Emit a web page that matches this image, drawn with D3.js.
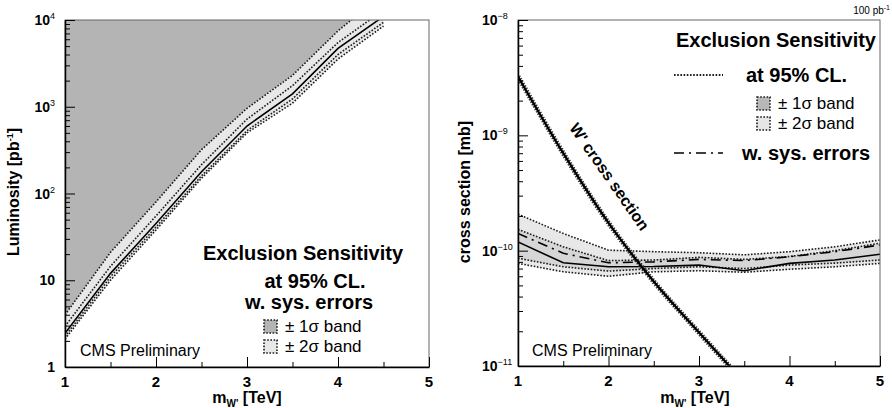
<!DOCTYPE html>
<html>
<head>
<meta charset="utf-8">
<script src="https://cdn.jsdelivr.net/npm/d3@7/dist/d3.min.js"></script>
<style>
	body { margin: 0; background: #fff; }
	svg { font-family: 'Liberation Sans', Arial, sans-serif; }
</style>
</head>
<body>
<svg id="chart" width="892" height="408"></svg>
<script>
// left panel: luminosity needed for exclusion vs W' mass
const massLumi = [1, 1.5, 2, 2.5, 3, 3.5, 4, 4.5];
const lumiMedian = [2.45, 12, 45, 178, 600, 1410, 4700, 11000];
const lumiUp2 = [4.0, 21, 80, 320, 960, 2300, 7500, 20000];
const lumiUp1 = [2.95, 14.5, 55, 215, 720, 1750, 5500, 13000];
const lumiDn1 = [2.25, 11, 41, 160, 530, 1230, 4000, 9400];
const lumiDn2 = [2.1, 10, 38, 150, 500, 1100, 3550, 8500];

// right panel: cross section limits for 100 pb-1
const massXs = [1, 1.5, 2, 2.5, 3, 3.5, 4, 4.5, 5];
const xsMedian = [1.19e-10, 7.85e-11, 7.25e-11, 7.3e-11, 7.5e-11, 6.7e-11, 7.76e-11, 8.3e-11, 9.3e-11];
const xsSys = [1.41e-10, 9.5e-11, 7.85e-11, 8.0e-11, 8.4e-11, 8.2e-11, 8.85e-11, 9.8e-11, 1.12e-10];
const xsUp2 = [2.07e-10, 1.41e-10, 1.01e-10, 9.8e-11, 9.6e-11, 9.2e-11, 9.8e-11, 1.08e-10, 1.24e-10];
const xsUp1 = [1.53e-10, 1.08e-10, 8.2e-11, 8.3e-11, 8.75e-11, 8.4e-11, 8.9e-11, 1.0e-10, 1.16e-10];
const xsDn1 = [8.6e-11, 7.25e-11, 6.65e-11, 7.0e-11, 7.25e-11, 7.0e-11, 7.5e-11, 7.8e-11, 8.3e-11];
const xsDn2 = [7.76e-11, 6.56e-11, 6.0e-11, 6.56e-11, 6.7e-11, 6.5e-11, 6.9e-11, 7.25e-11, 7.76e-11];

const massWprime = [1, 1.5, 2, 2.5, 3, 3.5];
const xsWprime = [3.24e-9, 7.0e-10, 1.74e-10, 5.4e-11, 1.95e-11, 7.2e-12];

const massTicks = [1, 2, 3, 4, 5];
const massMinorTicks = [1.5, 2.5, 3.5, 4.5];

const svg = d3.select('#chart');

const minorLogTicks = (lo, hi) => {
	const out = [];
	for (let e = lo; e < hi; e++) {
		for (let k = 2; k <= 9; k++) out.push(k * Math.pow(10, e));
	}
	return out;
};
const decadeTicks = (lo, hi) => d3.range(lo, hi + 1).map((e) => Math.pow(10, e));

const dotted = (sel) =>
	sel.attr('fill', 'none').attr('stroke', '#1a1a1a').attr('stroke-width', 1.6).attr('stroke-dasharray', '1.6 1.6');

const drawFrame = (g, x, y, titleX) => {
	const [x0, x1] = x.range();
	const [y0, y1] = y.range();
	g.append('rect')
		.attr('x', x0).attr('y', y1)
		.attr('width', x1 - x0).attr('height', y0 - y1)
		.attr('fill', 'none').attr('stroke', '#666').attr('stroke-width', 1);

	g.append('g')
		.attr('transform', `translate(0,${y0})`)
		.call(d3.axisBottom(x).tickValues(massTicks).tickSizeInner(-10).tickSizeOuter(0).tickFormat(''))
		.call((a) => a.select('.domain').attr('stroke-width', 1.5));
	g.append('g')
		.attr('transform', `translate(0,${y0})`)
		.call(d3.axisBottom(x).tickValues(massMinorTicks).tickSizeInner(-5).tickSizeOuter(0).tickFormat(''))
		.call((a) => a.select('.domain').remove());

	g.selectAll('.xlab')
		.data(massTicks)
		.enter()
		.append('text')
		.attr('x', (d) => x(d))
		.attr('y', y0 + 20)
		.attr('text-anchor', 'middle')
		.attr('font-size', 15)
		.attr('font-weight', 'bold')
		.text((d) => d);

	const t = g.append('text')
		.attr('x', titleX)
		.attr('y', 403)
		.attr('text-anchor', 'middle')
		.attr('font-size', 16)
		.attr('font-weight', 'bold');
	t.append('tspan').text('m');
	t.append('tspan').attr('font-size', 10).attr('dy', 4).text("W'");
	t.append('tspan').attr('dy', -4).text('  [TeV]');
};

const drawLogAxis = (g, x, y, major, minor) => {
	const x0 = x.range()[0];
	g.append('g')
		.attr('transform', `translate(${x0},0)`)
		.call(d3.axisLeft(y).tickValues(major).tickSizeInner(-10).tickSizeOuter(0).tickFormat(''))
		.call((a) => a.select('.domain').attr('stroke-width', 1.5));
	g.append('g')
		.attr('transform', `translate(${x0},0)`)
		.call(d3.axisLeft(y).tickValues(minor).tickSizeInner(-5).tickSizeOuter(0).tickFormat(''))
		.call((a) => a.select('.domain').remove());
};

const powLabel = (g, x, y, exp, anchor) => {
	const t = g.append('text')
		.attr('x', x).attr('y', y)
		.attr('text-anchor', anchor)
		.attr('font-size', 14)
		.attr('font-weight', 'bold');
	if (exp === 0) { t.text('1'); return; }
	if (exp === 1) { t.text('10'); return; }
	t.append('tspan').text('10');
	t.append('tspan').attr('dy', -6).attr('font-size', 9).attr('font-weight', 'normal').text(exp < 0 ? '\u2212' + -exp : exp);
};

const legendBox = (g, x, y, fill, label) => {
	g.append('rect')
		.attr('x', x).attr('y', y).attr('width', 13).attr('height', 13)
		.call(dotted)
		.attr('fill', fill);
	g.append('text')
		.attr('x', x + 21).attr('y', y + 12)
		.attr('font-size', 17)
		.text(label);
};

// ---------------- left panel ----------------
const xL = d3.scaleLinear().domain([1, 5]).range([65, 429]);
const yL = d3.scaleLog().domain([1, 1e4]).range([367, 20]);
const left = svg.append('g');

left.append('clipPath').attr('id', 'clipL')
	.append('rect').attr('x', 65).attr('y', 20).attr('width', 364).attr('height', 347);
const plotL = left.append('g').attr('clip-path', 'url(#clipL)');

const lumiRows = massLumi.map((m, i) => ({
	m, med: lumiMedian[i], up2: lumiUp2[i], up1: lumiUp1[i], dn1: lumiDn1[i], dn2: lumiDn2[i]
}));

plotL.append('path')
	.datum(lumiRows)
	.attr('fill', '#b4b4b4')
	.attr('d', d3.area().x((d) => xL(d.m)).y0(20).y1((d) => yL(d.up2)));
plotL.append('path')
	.datum(lumiRows)
	.attr('fill', '#e8e8e8')
	.attr('d', d3.area().x((d) => xL(d.m)).y0((d) => yL(d.dn2)).y1((d) => yL(d.up2)));
['up2', 'up1', 'dn1', 'dn2'].forEach((k) => {
	plotL.append('path')
		.datum(lumiRows)
		.call(dotted)
		.attr('d', d3.line().x((d) => xL(d.m)).y((d) => yL(d[k])));
});
plotL.append('path')
	.datum(lumiRows)
	.attr('fill', 'none').attr('stroke', '#000').attr('stroke-width', 1.6)
	.attr('d', d3.line().x((d) => xL(d.m)).y((d) => yL(d.med)));

drawFrame(left, xL, yL, 247);
drawLogAxis(left, xL, yL, decadeTicks(0, 4), minorLogTicks(0, 4));
[0, 1, 2, 3, 4].forEach((e) => powLabel(left, 55, yL(Math.pow(10, e)) + 5, e, 'end'));

const lumiTitle = left.append('text')
	.attr('transform', 'translate(19,192) rotate(-90)')
	.attr('text-anchor', 'middle')
	.attr('font-size', 16)
	.attr('font-weight', 'bold');
lumiTitle.append('tspan').text('Luminosity  [pb');
lumiTitle.append('tspan').attr('dy', -6).attr('font-size', 9).text('-1');
lumiTitle.append('tspan').attr('dy', 6).text(']');

left.append('text').attr('x', 80).attr('y', 356).attr('font-size', 16).text('CMS Preliminary');
[['Exclusion Sensitivity', 303, 260], ['at 95% CL.', 315, 288], ['w. sys. errors', 309, 309]].forEach(([s, x, y]) => {
	left.append('text').attr('x', x).attr('y', y).attr('text-anchor', 'middle')
		.attr('font-size', 20).attr('font-weight', 'bold').text(s);
});
legendBox(left, 264, 320, '#b4b4b4', '\u00b1 1\u03c3 band');
legendBox(left, 264, 340, '#e8e8e8', '\u00b1 2\u03c3 band');

// ---------------- right panel ----------------
const xR = d3.scaleLinear().domain([1, 5]).range([518, 880]);
const yR = d3.scaleLog().domain([1e-11, 1e-8]).range([366, 20]);
const right = svg.append('g');

right.append('clipPath').attr('id', 'clipR')
	.append('rect').attr('x', 518).attr('y', 20).attr('width', 362).attr('height', 346);
const plotR = right.append('g').attr('clip-path', 'url(#clipR)');

const xsRows = massXs.map((m, i) => ({
	m, med: xsMedian[i], sys: xsSys[i], up2: xsUp2[i], up1: xsUp1[i], dn1: xsDn1[i], dn2: xsDn2[i]
}));

plotR.append('path')
	.datum(xsRows)
	.attr('fill', '#e8e8e8')
	.attr('d', d3.area().x((d) => xR(d.m)).y0((d) => yR(d.dn2)).y1((d) => yR(d.up2)));
plotR.append('path')
	.datum(xsRows)
	.attr('fill', '#d6d6d6')
	.attr('d', d3.area().x((d) => xR(d.m)).y0((d) => yR(d.dn1)).y1((d) => yR(d.up1)));
['up2', 'up1', 'dn1', 'dn2'].forEach((k) => {
	plotR.append('path')
		.datum(xsRows)
		.call(dotted)
		.attr('d', d3.line().x((d) => xR(d.m)).y((d) => yR(d[k])));
});
plotR.append('path')
	.datum(xsRows)
	.attr('fill', 'none').attr('stroke', '#000').attr('stroke-width', 1.6)
	.attr('d', d3.line().x((d) => xR(d.m)).y((d) => yR(d.med)));
plotR.append('path')
	.datum(xsRows)
	.attr('fill', 'none').attr('stroke', '#000').attr('stroke-width', 1.6)
	.attr('stroke-dasharray', '10 5 2 5')
	.attr('d', d3.line().x((d) => xR(d.m)).y((d) => yR(d.sys)));

const wpLine = d3.line().curve(d3.curveMonotoneX).x((d) => xR(d[0])).y((d) => yR(d[1]));
const wpData = massWprime.map((m, i) => [m, xsWprime[i]]);
plotR.append('path')
	.datum(wpData)
	.attr('fill', 'none').attr('stroke', '#333').attr('stroke-width', 5)
	.attr('stroke-dasharray', '1.4 1.4')
	.attr('d', wpLine);
plotR.append('path')
	.datum(wpData)
	.attr('fill', 'none').attr('stroke', '#000').attr('stroke-width', 2.2)
	.attr('d', wpLine);

right.append('text')
	.attr('transform', 'translate(609,177) rotate(55)')
	.attr('text-anchor', 'middle')
	.attr('y', 5)
	.attr('font-size', 16)
	.attr('font-weight', 'bold')
	.text("W' cross section");

drawFrame(right, xR, yR, 695);
drawLogAxis(right, xR, yR, decadeTicks(-11, -8), minorLogTicks(-11, -8));
[-8, -9, -10, -11].forEach((e) => powLabel(right, 482, yR(Math.pow(10, e)) + 5, e, 'start'));

right.append('text')
	.attr('transform', 'translate(470,192) rotate(-90)')
	.attr('text-anchor', 'middle')
	.attr('font-size', 16)
	.attr('font-weight', 'bold')
	.text('cross section [mb]');

const lumiNote = right.append('text').attr('x', 890).attr('y', 14).attr('text-anchor', 'end').attr('font-size', 10);
lumiNote.append('tspan').text('100 pb');
lumiNote.append('tspan').attr('dy', -4).attr('font-size', 7).text('-1');

right.append('text').attr('x', 532).attr('y', 356).attr('font-size', 16).text('CMS Preliminary');
right.append('text').attr('x', 876).attr('y', 47).attr('text-anchor', 'end')
	.attr('font-size', 20).attr('font-weight', 'bold').text('Exclusion Sensitivity');
right.append('line').attr('x1', 674).attr('x2', 723).attr('y1', 75).attr('y2', 75).call(dotted).attr('stroke-width', 2.2);
right.append('text').attr('x', 746).attr('y', 82).attr('font-size', 20).attr('font-weight', 'bold').text('at 95% CL.');
legendBox(right, 757, 97, '#b8b8b8', '\u00b1 1\u03c3 band');
legendBox(right, 757, 117, '#e6e6e6', '\u00b1 2\u03c3 band');
right.append('line').attr('x1', 674).attr('x2', 723).attr('y1', 153).attr('y2', 153)
	.attr('stroke', '#000').attr('stroke-width', 1.6).attr('stroke-dasharray', '10 5 2 5');
right.append('text').attr('x', 742).attr('y', 160).attr('font-size', 20).attr('font-weight', 'bold').text('w. sys. errors');
</script>
</body>
</html>
